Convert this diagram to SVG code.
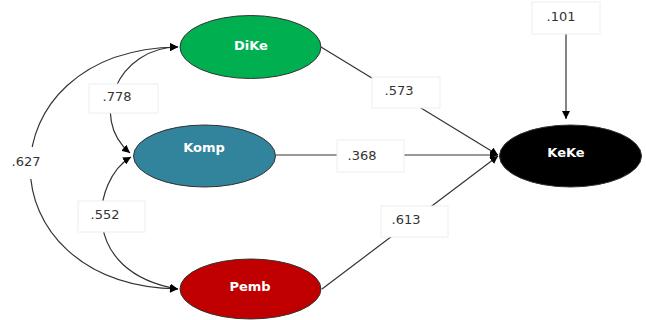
<svg xmlns="http://www.w3.org/2000/svg" width="646" height="320" viewBox="0 0 646 320">
<defs>
<marker id="ah" viewBox="0 0 10 10" refX="10" refY="5" markerWidth="8" markerHeight="8" markerUnits="userSpaceOnUse" orient="auto-start-reverse">
<path d="M0,0 L10,5 L0,10 Z" fill="#000"/>
</marker>
</defs>
<style>
.edge{fill:none;stroke:#333;stroke-width:1.2}
.lbox{fill:#fff;stroke:#eeeeee;stroke-width:1}
.num{font-family:"DejaVu Sans",sans-serif;font-size:13px;fill:#333;text-anchor:middle}
.nl{font-family:"DejaVu Sans",sans-serif;font-size:13px;font-weight:bold;fill:#fff;text-anchor:middle}
.node{stroke:#333;stroke-width:1}
</style>
<rect width="646" height="320" fill="#fff"/>
<g id="connectors">
<path class="edge" d="M178,47 C118,47 88,118 130,153" marker-start="url(#ah)" marker-end="url(#ah)"/>
<path class="edge" d="M131,157 C92,180 78,272 178,289" marker-start="url(#ah)" marker-end="url(#ah)"/>
<path class="edge" d="M178,47 C-19,50 -19,285 178,289" marker-start="url(#ah)" marker-end="url(#ah)"/>
<line class="edge" x1="321" y1="47" x2="498" y2="155" marker-end="url(#ah)"/>
<line class="edge" x1="276" y1="155" x2="498" y2="155" marker-end="url(#ah)"/>
<line class="edge" x1="322" y1="289" x2="498" y2="156" marker-end="url(#ah)"/>
<line class="edge" x1="566" y1="34" x2="566" y2="119" marker-end="url(#ah)"/>
<rect class="lbox" x="89" y="84" width="69" height="29"/>
<text class="num" x="117" y="101">.778</text>
<rect class="lbox" x="78" y="201" width="67" height="31"/>
<text class="num" x="105" y="219">.552</text>
<rect x="8" y="147" width="40" height="32" fill="#fff"/>
<text class="num" x="26" y="166">.627</text>
<rect class="lbox" x="372" y="77" width="68" height="31"/>
<text class="num" x="399" y="95">.573</text>
<rect class="lbox" x="337" y="140" width="67" height="32"/>
<text class="num" x="362" y="160">.368</text>
<rect class="lbox" x="381" y="206" width="67" height="31"/>
<text class="num" x="406" y="224">.613</text>
<rect class="lbox" x="532" y="2" width="68" height="32"/>
<text class="num" x="561" y="21">.101</text>
</g>
<g id="DiKe">
<ellipse class="node" cx="250.5" cy="47" rx="70.5" ry="31.5" fill="#00b050"/>
<text class="nl" x="251" y="50">DiKe</text>
</g>
<g id="Komp">
<ellipse class="node" cx="204.5" cy="156" rx="71" ry="31" fill="#31849b"/>
<text class="nl" x="204" y="152">Komp</text>
</g>
<g id="Pemb">
<ellipse class="node" cx="250.5" cy="289" rx="70.5" ry="30" fill="#c00000"/>
<text class="nl" x="250" y="291">Pemb</text>
</g>
<g id="KeKe">
<ellipse class="node" cx="570.5" cy="156" rx="71" ry="31" fill="#000"/>
<text class="nl" x="566" y="157">KeKe</text>
</g>
</svg>
